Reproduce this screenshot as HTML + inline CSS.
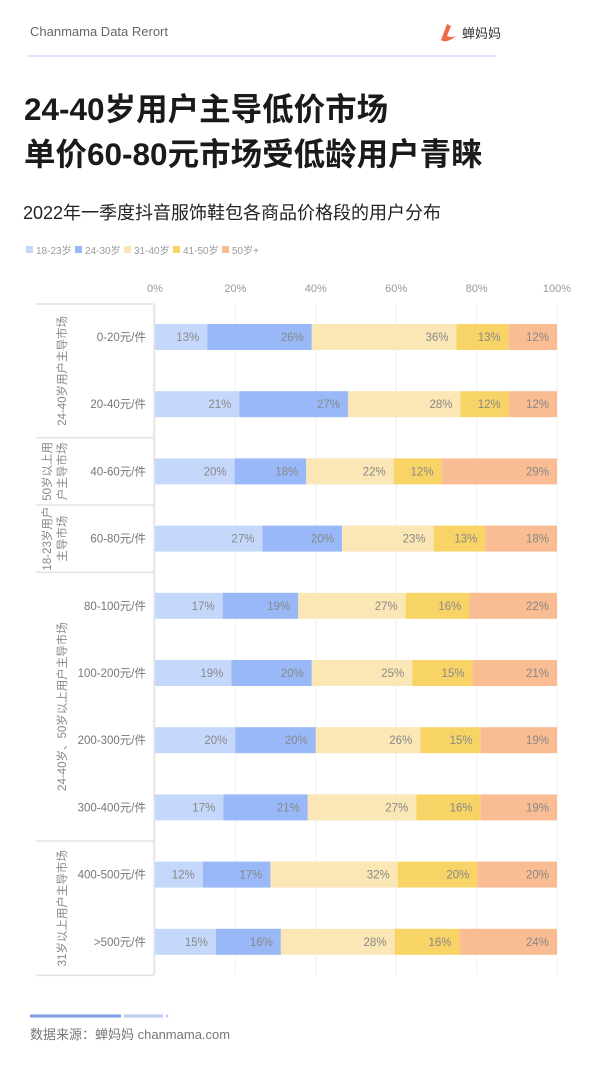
<!DOCTYPE html>
<html><head><meta charset="utf-8">
<style>
html,body{margin:0;padding:0;background:#fff;}
body{width:600px;height:1066px;overflow:hidden;position:relative;font-family:"Liberation Sans","Noto Sans CJK SC",sans-serif;}
svg{position:absolute;left:0;top:0;}
</style></head>
<body>
<svg id="chart" width="600" height="1066" viewBox="0 0 600 1066" font-family="Liberation Sans, Noto Sans CJK SC, sans-serif">
  <text x="30" y="36" font-size="13" fill="#666">Chanmama Data Rerort</text>
  <line x1="27" y1="56" x2="496" y2="56" stroke="#dde3f8" stroke-width="2"/>
  <g>
    <path d="M447 24 L441 40 Q446 44 456 36 Q451 38 447 36 L451 26 Z" fill="#ee6a48"/>
    <text x="462" y="38" font-size="13" fill="#333">蝉妈妈</text>
  </g>
  <text x="24" y="120" font-size="31.5" font-weight="bold" fill="#1a1a1a">24-40岁用户主导低价市场</text>
  <text x="24" y="165" font-size="31.5" font-weight="bold" fill="#1a1a1a">单价60-80元市场受低龄用户青睐</text>
  <text x="23" y="219" font-size="18" fill="#222">2022年一季度抖音服饰鞋包各商品价格段的用户分布</text>
  <g id="legend"></g>
  <g id="grid"></g>
  <g id="table"></g>
  <g id="bars"></g>
  <g>
    <line x1="30" y1="1016" x2="121" y2="1016" stroke="#7d9fe8" stroke-width="3"/>
    <line x1="124" y1="1016" x2="163" y2="1016" stroke="#b9ccf5" stroke-width="3"/>
    <circle cx="167" cy="1016" r="1.5" fill="#b9ccf5"/>
  </g>
  <text x="30" y="1039" font-size="13" fill="#777">数据来源：蝉妈妈 chanmama.com</text>
</svg>
<script>
const categories = ['0-20元/件','20-40元/件','40-60元/件','60-80元/件','80-100元/件','100-200元/件','200-300元/件','300-400元/件','400-500元/件','>500元/件'];
const seriesNames = ['18-23岁','24-30岁','31-40岁','41-50岁','50岁+'];
const s1823 = [13,21,20,27,17,19,20,17,12,15];
const s2430 = [26,27,18,20,19,20,20,21,17,16];
const s3140 = [36,28,22,23,27,25,26,27,32,28];
const s4150 = [13,12,12,13,16,15,15,16,20,16];
const s50p  = [12,12,29,18,22,21,19,19,20,24];
const tickLabels = ['0%','20%','40%','60%','80%','100%'];
const tickValues = [0,20,40,60,80,100];
const groupLabels = [['24-40岁用户主导市场'],['50岁以上用','户主导市场'],['18-23岁用户','主导市场'],['24-40岁、50岁以上用户主导市场'],['31岁以上用户主导市场']];
const groupSizes = [2,1,1,4,2];

const colors = ['#c5d8fb','#98b8f7','#fae7b5','#f8d467','#f9bc93'];
const NS='http://www.w3.org/2000/svg';
const X0=155, X1=557, ROW0=337, ROWH=67.2, BH=26, TOP=304;
const xS = v => X0 + (X1-X0)*v/100;
const yS = i => ROW0 + ROWH*i;
function mk(tag, attrs, parent){const e=document.createElementNS(NS,tag);for(const k in attrs)e.setAttribute(k,attrs[k]);parent.appendChild(e);return e;}

// legend
const lg=document.getElementById('legend');
let lx=26;
seriesNames.forEach((n,i)=>{
  const g=mk('g',{},lg);
  
  
  mk('rect',{x:lx,y:246,width:7,height:7,fill:colors[i]},g);
  const t=mk('text',{x:lx+10,y:254,'font-size':10,fill:'#999'},g);
  t.textContent=n;
  lx += 49;
});

// grid + ticks
const gr=document.getElementById('grid');
tickValues.forEach((v,i)=>{
  const l=mk('line',{x1:xS(v),x2:xS(v),y1:TOP,y2:975,stroke:'#f0f0f0','stroke-width':1},gr);
  
  
  const t=mk('text',{x:xS(v),y:292,'font-size':11,fill:'#999','text-anchor':'middle'},gr);
  
  
  t.textContent=tickLabels[i];
});

// table
const tb=document.getElementById('table');
mk('line',{x1:154,x2:154,y1:TOP,y2:975,stroke:'#e3e3e3','stroke-width':1.5},tb);
let gi=0;
const bounds=[TOP];
groupSizes.forEach((sz,k)=>{
  const top=bounds[bounds.length-1];
  const bottom = yS(gi+sz-1)+ROWH/2;
  bounds.push(bottom);
  const cy=(top+bottom)/2;
  const lines=groupLabels[k];
  lines.forEach((ln,j)=>{
    const cx = lines.length===1 ? 63 : 48+j*15;
    const t=mk('text',{x:cx,y:cy,'font-size':11.5,fill:'#888','text-anchor':'middle',transform:`rotate(-90 ${cx} ${cy})`,'dominant-baseline':'middle'},tb);
    
    
    t.textContent=ln;
  });
  gi+=sz;
});
bounds.forEach(b=>mk('line',{x1:36,x2:154,y1:b,y2:b,stroke:'#e3e3e3','stroke-width':1.5},tb));
categories.forEach((c,i)=>{
  const t=mk('text',{x:146,y:yS(i)+4,'font-size':11.5,fill:'#777','text-anchor':'end'},tb);
  
  
  t.textContent=c;
});

// bars
const bs=document.getElementById('bars');
const series=[s1823,s2430,s3140,s4150,s50p];
categories.forEach((c,i)=>{
  const total=series.reduce((a,s)=>a+s[i],0);
  let acc=0;
  series.forEach((s,k)=>{
    const x0=xS(acc/total*100), x1=xS((acc+s[i])/total*100);
    const r=mk('rect',{x:x0,y:yS(i)-BH/2,width:x1-x0,height:BH,fill:colors[k]},bs);
    
    
    const t=mk('text',{x:x1-8,y:yS(i)+4,'font-size':11.5,fill:'#888','text-anchor':'end'},bs);
    
    
    t.textContent=s[i]+'%';
    acc+=s[i];
  });
});
</script>
</body></html>
